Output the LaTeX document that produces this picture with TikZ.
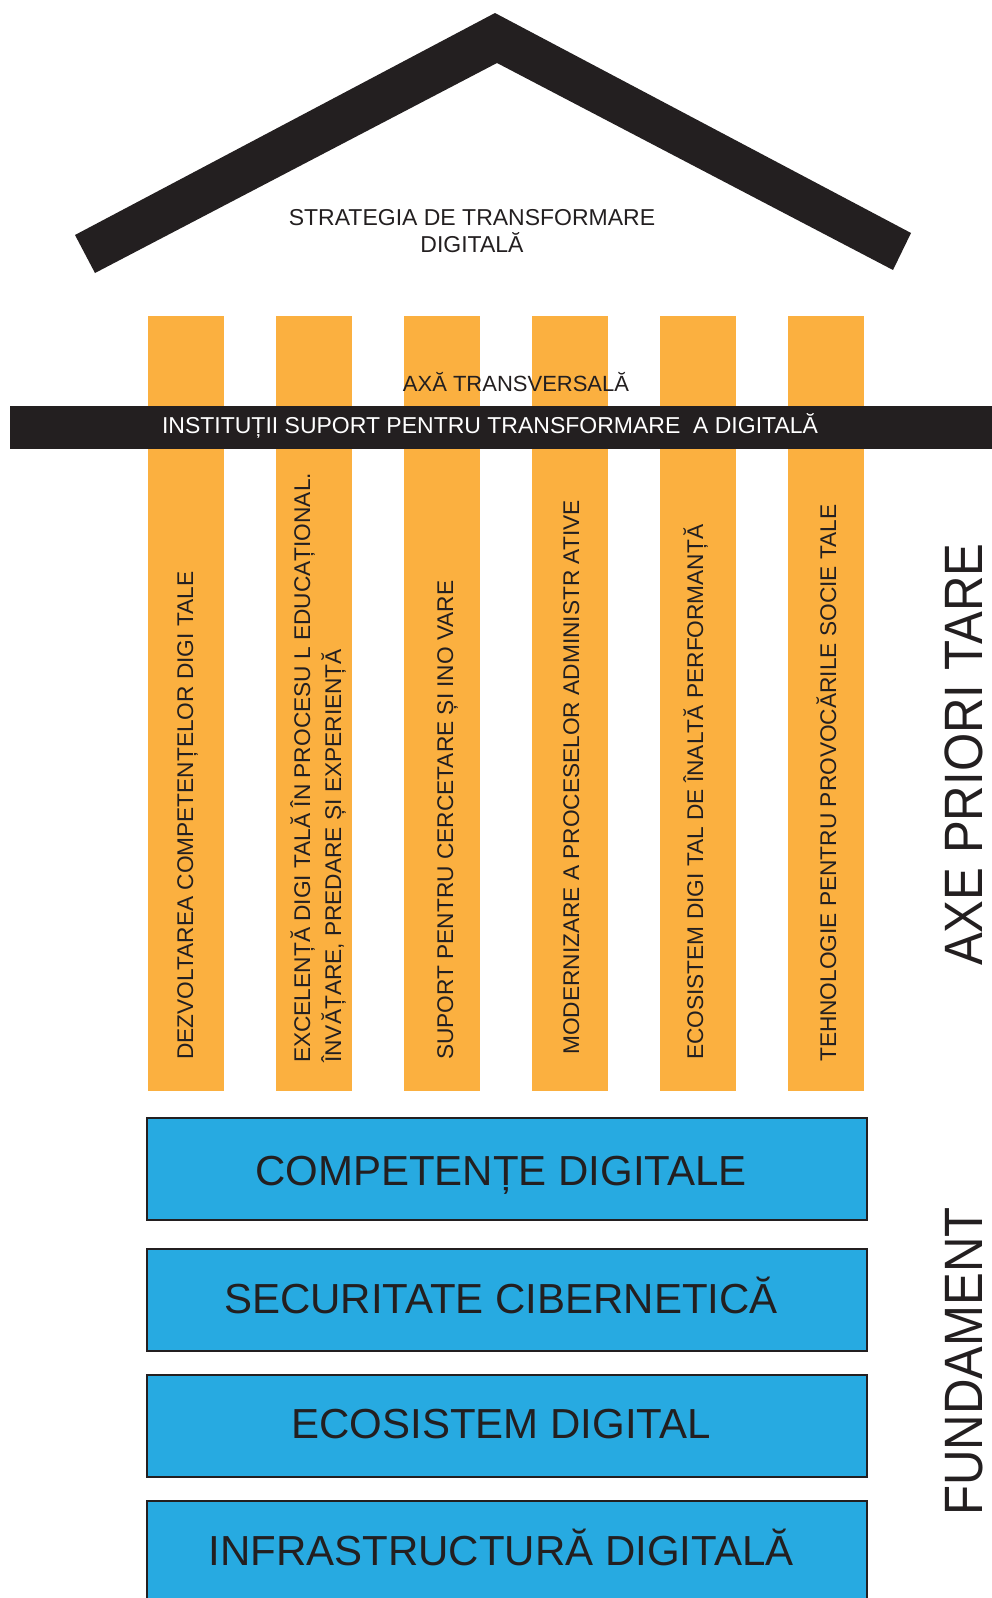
\documentclass[tikz,border=0pt]{standalone}
\usepackage{fontspec}
\setmainfont{Liberation Sans}
\newfontfamily\sidefont[FakeStretch=0.91]{Liberation Sans}
\definecolor{pillarorange}{HTML}{FBB040}
\definecolor{baseblue}{HTML}{27AAE1}
\definecolor{inkblack}{HTML}{231F20}
\begin{document}
\begin{tikzpicture}[x=1pt, y=-1pt,
    pillarbox/.style={fill=pillarorange, draw=none, inner sep=0pt, anchor=north west,
        minimum width=76pt, minimum height=775pt},
    layerbox/.style={fill=baseblue, draw=inkblack, line width=1.6pt, inner sep=0pt,
        anchor=north west, minimum width=720pt},
    smalltext/.style={inner sep=0pt, text=inkblack, font=\fontsize{23}{30}\selectfont},
    pillartext/.style={smalltext, rotate=90, anchor=base west, font=\fontsize{22.7}{30}\selectfont},
    bigtext/.style={inner sep=0pt, text=inkblack, anchor=base, font=\fontsize{42}{50}\selectfont},
    sidetext/.style={inner sep=0pt, text=inkblack, rotate=90, anchor=base west,
        font=\sidefont\fontsize{54}{60}\selectfont}]
    \useasboundingbox (0,0) rectangle (992,1598);

    % roof
    \coordinate (roofL) at (75,235);
    \coordinate (roofLb) at (95,273);
    \coordinate (roofTop) at (495,13);
    \coordinate (roofIn) at (497,63);
    \coordinate (roofR) at (911,233);
    \coordinate (roofRb) at (893,270);
    \fill[inkblack] (roofL) -- (roofTop) -- (roofR) -- (roofRb) -- (roofIn) -- (roofLb) -- cycle;
    \node[smalltext, anchor=base] (title) at (472,225) {STRATEGIA DE TRANSFORMARE};
    \node[smalltext, anchor=base] (titleb) at ([yshift=-27pt]title.base) {DIGITALĂ};

    % pillars
    \def\ptop{316}
    \foreach \i/\x in {1/148, 2/276, 3/404, 4/532, 5/660, 6/788}
        \node[pillarbox] (p\i) at (\x,\ptop) {};

    % transversal axis
    \node[smalltext, anchor=base, font=\fontsize{22}{30}\selectfont] (axis) at (516,391) {AXĂ TRANSVERSALĂ};
    \node[fill=inkblack, inner sep=0pt, anchor=north west, minimum width=990pt, minimum height=43pt] (bar) at (10,406) {};
    \node[smalltext, text=white, anchor=base] (barlabel) at (490,433) {INSTITUȚII SUPORT PENTRU TRANSFORMARE \ A DIGITALĂ};

    % pillar texts
    \node[pillartext] (t1) at (193,1060) {DEZVOLTAREA COMPETENȚELOR DIGI TALE};
    \node[pillartext] (t2) at (310,1063) {EXCELENȚĂ DIGI TALĂ ÎN PROCESU L EDUCAȚIONAL.};
    \node[pillartext] (t2b) at (341,1063) {ÎNVĂȚARE, PREDARE ȘI EXPERIENȚĂ};
    \node[pillartext] (t3) at (453,1060) {SUPORT PENTRU CERCETARE ȘI INO VARE};
    \node[pillartext] (t4) at (579,1055) {MODERNIZARE A PROCESELOR ADMINISTR ATIVE};
    \node[pillartext] (t5) at (703,1060) {ECOSISTEM DIGI TAL DE ÎNALTĂ PERFORMANȚĂ};
    \node[pillartext] (t6) at (836,1062) {TEHNOLOGIE PENTRU PROVOCĂRILE SOCIE TALE};
    \node[sidetext] (axes) at (982,966) {AXE PRIORI TARE};

    % foundation
    \node[layerbox, minimum height=102pt] (l1) at (146,1117) {};
    \node[layerbox, minimum height=102pt] (l2) at (146,1248) {};
    \node[layerbox, minimum height=102pt] (l3) at (146,1374) {};
    \node[layerbox, minimum height=115pt] (l4) at (146,1500) {};
    \node[bigtext] (f1) at (501,1185) {COMPETENȚE DIGITALE};
    \node[bigtext] (f2) at (501,1313) {SECURITATE CIBERNETICĂ};
    \node[bigtext] (f3) at (501,1438) {ECOSISTEM DIGITAL};
    \node[bigtext] (f4) at (501,1565) {INFRASTRUCTURĂ DIGITALĂ};
    \node[sidetext] (base) at (982,1516) {FUNDAMENT};
\end{tikzpicture}
\end{document}
